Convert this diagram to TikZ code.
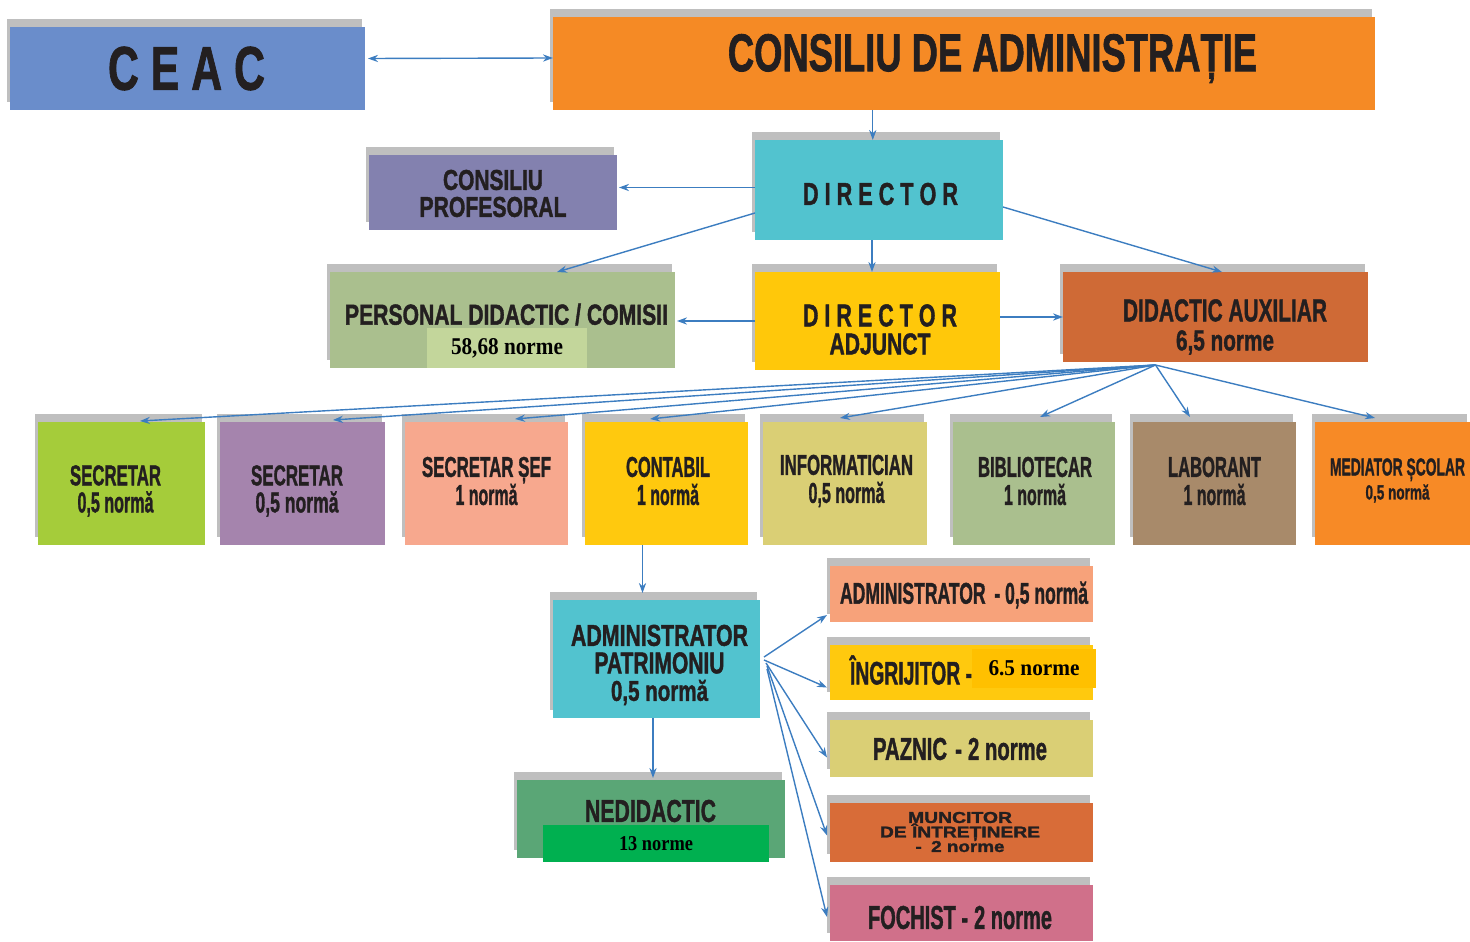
\documentclass[tikz,border=0pt]{standalone}
\usepackage{fontspec}
\setmainfont{Liberation Sans}[BoldFeatures={FakeBold=1.6}]
\newfontfamily\tnr{Liberation Serif}
\usepackage{graphicx}
\usetikzlibrary{shadows,calc,arrows.meta}
\newlength\pxu \setlength\pxu{0.5pt}
\newcommand\fitt[3]{\resizebox{#1\pxu}{#2\pxu}{\bfseries #3}}
\newcommand\fits[3]{\resizebox{#1\pxu}{#2\pxu}{\tnr\bfseries #3}}
\newcommand\lsp{\hspace{0.28em}}
\definecolor{txtc}{HTML}{231F20}
\definecolor{arrc}{HTML}{3C7DC0}
\definecolor{cceac}{HTML}{6A8DCB}
\definecolor{cca}{HTML}{F58A25}
\definecolor{cdir}{HTML}{52C3CF}
\definecolor{ccp}{HTML}{8381AF}
\definecolor{cpd}{HTML}{AABF8E}
\definecolor{cpdo}{HTML}{C3D69B}
\definecolor{cda}{HTML}{FFC80A}
\definecolor{caux}{HTML}{CF6A36}
\definecolor{cs1}{HTML}{A5CC3A}
\definecolor{cs2}{HTML}{A584AD}
\definecolor{cs3}{HTML}{F7A88E}
\definecolor{ccont}{HTML}{FFC90E}
\definecolor{cinf}{HTML}{DACF75}
\definecolor{cbib}{HTML}{AABF8E}
\definecolor{clab}{HTML}{A88A6A}
\definecolor{cmed}{HTML}{F78A26}
\definecolor{cned}{HTML}{5AA676}
\definecolor{cnedo}{HTML}{00B050}
\definecolor{cadm}{HTML}{F7A27A}
\definecolor{cingr}{HTML}{FFC90E}
\definecolor{cingro}{HTML}{FFC000}
\definecolor{cpaz}{HTML}{DACF75}
\definecolor{cmunc}{HTML}{D86C38}
\definecolor{cfoch}{HTML}{D0708A}
\begin{document}
\begin{tikzpicture}[x=0.5pt,y=-0.5pt,
  bx/.style={inner sep=0,outer sep=0,draw=none,
    drop shadow={shadow xshift=-1.5pt,shadow yshift=4pt,fill=black!50,opacity=.5}},
  ov/.style={inner sep=0,outer sep=0,draw=none},
  tx/.style={inner sep=0,outer sep=0,align=center,text=txtc,font=\fontsize{5pt}{#1}\selectfont},
  tx/.default=12pt,
  arr/.style={draw=arrc,line width=0.7pt,-{Stealth[length=5pt,width=3.6pt]}},
  arrb/.style={draw=arrc,line width=0.7pt,{Stealth[length=5pt,width=3.6pt]}-{Stealth[length=5pt,width=3.6pt]}},
]
\useasboundingbox (0,0) rectangle (1470,941);
% boxes
\node[bx,fill=cceac,minimum width=177.5pt,minimum height=41.5pt] (ceac) at (187.5,68.5) {};
\node[bx,fill=cca,minimum width=411pt,minimum height=46.5pt] (ca) at (964,63.5) {};
\node[bx,fill=cdir,minimum width=124pt,minimum height=50pt] (dir) at (879,190) {};
\node[bx,fill=ccp,minimum width=124pt,minimum height=37.5pt] (cp) at (493,192.5) {};
\node[bx,fill=cpd,minimum width=172.5pt,minimum height=48pt] (pd) at (502.5,320) {};
\node[bx,fill=cda,minimum width=122.5pt,minimum height=49pt] (da) at (877.5,321) {};
\node[bx,fill=caux,minimum width=152.5pt,minimum height=45pt] (aux) at (1215.5,317) {};
\node[bx,fill=cs1,minimum width=83.5pt,minimum height=61.5pt] (s1) at (121.5,483.5) {};
\node[bx,fill=cs2,minimum width=82.5pt,minimum height=61.5pt] (s2) at (302.5,483.5) {};
\node[bx,fill=cs3,minimum width=81.5pt,minimum height=61.5pt] (s3) at (486.5,483.5) {};
\node[bx,fill=ccont,minimum width=81.5pt,minimum height=61.5pt] (cont) at (666.5,483.5) {};
\node[bx,fill=cinf,minimum width=82pt,minimum height=61.5pt] (inf) at (845,483.5) {};
\node[bx,fill=cbib,minimum width=81pt,minimum height=61.5pt] (bib) at (1034,483.5) {};
\node[bx,fill=clab,minimum width=81.5pt,minimum height=61.5pt] (lab) at (1214.5,483.5) {};
\node[bx,fill=cmed,minimum width=77.5pt,minimum height=61.5pt] (med) at (1392.5,483.5) {};
\node[bx,fill=cdir,minimum width=103.5pt,minimum height=59pt] (ap) at (656.5,659) {};
\node[bx,fill=cned,minimum width=134pt,minimum height=39pt] (ned) at (651,819) {};
\node[bx,fill=cadm,minimum width=131.5pt,minimum height=28pt] (adm) at (961.5,594) {};
\node[bx,fill=cingr,minimum width=131.5pt,minimum height=27.5pt] (ingr) at (961.5,672.5) {};
\node[bx,fill=cpaz,minimum width=131.5pt,minimum height=28.5pt] (paz) at (961.5,748.5) {};
\node[bx,fill=cmunc,minimum width=131.5pt,minimum height=29.5pt] (munc) at (961.5,832.5) {};
\node[bx,fill=cfoch,minimum width=131.5pt,minimum height=28pt] (foch) at (961.5,913) {};
% texts
\node[tx] (tceac) at (186.5,68.5) {\fitt{157}{43}{C\lsp E\lsp A\lsp C}};
\node[tx] (tca) at (992.5,58.5) {\fitt{529}{37}{CONSILIU DE ADMINISTRAȚIE}};
\node[tx] (tdir) at (880.5,194) {\fitt{155}{22}{D\lsp I\lsp R\lsp E\lsp C\lsp T\lsp O\lsp R}};
\node[tx=13.5pt] (tcp) at (493,193.5) {\fitt{100}{20}{CONSILIU}\\\fitt{147}{20}{PROFESORAL}};
\node[tx] (tpd) at (506.5,314.5) {\fitt{323}{21}{PERSONAL DIDACTIC / COMISII}};
\node[ov,fill=cpdo,minimum width=80pt,minimum height=20pt] (pdo) at (507,348) {\fits{112}{16}{58,68 norme}};
\node[tx=14pt] (tda) at (880,329.5) {\fitt{154}{22}{D\lsp I\lsp R\lsp E\lsp C\lsp T\lsp O\lsp R}\\\fitt{101}{21}{ADJUNCT}};
\node[tx=14.5pt] (taux) at (1225,327) {\fitt{204}{22}{DIDACTIC AUXILIAR}\\\fitt{98}{20}{6,5 norme}};
\node[tx=13.5pt] (ts1) at (115.5,491) {\fitt{91}{20}{SECRETAR}\\\fitt{76}{21}{0,5 normă}};
\node[tx=13.5pt] (ts2) at (297,491) {\fitt{92}{20}{SECRETAR}\\\fitt{83}{21}{0,5 normă}};
\node[tx=14pt] (ts3) at (486.5,481) {\fitt{129}{20}{SECRETAR ȘEF}\\\fitt{62}{21}{1 normă}};
\node[tx=14pt] (tcont) at (668,481) {\fitt{84}{20}{CONTABIL}\\\fitt{62}{21}{1 normă}};
\node[tx=14pt] (tinf) at (846.5,481) {\fitt{133}{20}{INFORMATICIAN}\\\fitt{76}{21}{0,5 normă}};
\node[tx=14pt] (tbib) at (1035,481) {\fitt{114}{20}{BIBLIOTECAR}\\\fitt{62}{21}{1 normă}};
\node[tx=14pt] (tlab) at (1214.5,481) {\fitt{93}{20}{LABORANT}\\\fitt{62}{21}{1 normă}};
\node[tx=12pt] (tmed) at (1397.5,480.5) {\fitt{135}{17}{MEDIATOR ȘCOLAR}\\\fitt{64}{15}{0,5 normă}};
\node[tx=13.75pt] (tap) at (659.5,665) {\fitt{177}{21}{ADMINISTRATOR}\\\fitt{130}{21}{PATRIMONIU}\\\fitt{97}{21}{0,5 normă}};
\node[tx] (tned) at (650.5,811) {\fitt{131}{22}{NEDIDACTIC}};
\node[ov,fill=cnedo,minimum width=113pt,minimum height=18.5pt] (nedo) at (656,843.5) {\fits{74}{14}{13 norme}};
\node[tx] (tadm) at (964,595) {\fitt{248}{22}{ADMINISTRATOR\hspace{0.5em}- 0,5 normă}};
\node[tx] (tingr) at (911,670) {\fitt{122}{29}{ÎNGRIJITOR -}};
\node[ov,fill=cingro,minimum width=62pt,minimum height=19.5pt] (ingro) at (1034,668.5) {\fits{91}{15}{6.5 norme}};
\node[tx] (tpaz) at (960,749) {\fitt{174}{22}{PAZNIC\hspace{0.4em}-\hspace{0.3em}2 norme}};
\node[tx=7.25pt] (tmunc) at (960,832) {\fitt{104}{11}{MUNCITOR}\\\fitt{160}{14}{DE ÎNTREȚINERE}\\\fitt{89}{11}{-\hspace{0.5em}2 norme}};
\node[tx] (tfoch) at (960,917.5) {\fitt{184}{23}{FOCHIST -\hspace{0.3em}2 norme}};
% connectors
\draw[arrb] ($(ceac.east)+(3,-10)$) -- ($(ca.west)+(0,-5.5)$);
\coordinate (caD) at ($(ca.south west)!0.389!(ca.south east)$);
\draw[arr] (caD) -- (caD |- dir.north);
\coordinate (cpE) at ($(cp.east)+(2,-5)$);
\draw[arr] (cpE -| dir.west) -- (cpE);
\draw[arr] ($(dir.west)+(0,23)$) -- ($(pd.north)+(54.5,0)$);
\coordinate (dirD) at ($(dir.south)+(-7,0)$);
\draw[arr] (dirD) -- (dirD |- da.north);
\draw[arr] ($(dir.east)+(0,17)$) -- ($(aux.north)+(6.5,0)$);
\draw[arr] (da.west) -- ($(da.west -| pd.east)+(2,0)$);
\draw[arr] (aux.west -| da.east) -- (aux.west);
\coordinate (auxF) at ($(aux.south)+(-60,3)$);
\draw[arr] (auxF) -- ($(s1.north)+(18.5,-1)$);
\draw[arr] (auxF) -- ($(s2.north)+(30.5,-2)$);
\draw[arr] (auxF) -- ($(s3.north)+(28.5,-3)$);
\draw[arr] (auxF) -- ($(cont.north)+(-16.5,-3)$);
\draw[arr] (auxF) -- ($(inf.north)+(-5,-4)$);
\draw[arr] (auxF) -- ($(bib.north)+(6,-5)$);
\draw[arr] (auxF) -- ($(lab.north)+(-24.5,-5)$);
\draw[arr] (auxF) -- ($(med.north)+(-17.5,-4)$);
\coordinate (contD) at ($(cont.south)+(-24,0)$);
\draw[arr] (contD) -- ($(contD |- ap.north)+(0,-7)$);
\coordinate (apD) at ($(ap.south)+(-3.5,0)$);
\draw[arr] (apD) -- ($(apD |- ned.north)+(0,-2)$);
\coordinate (apE) at ($(ap.east)+(4,-2)$);
\draw[arr] (apE) -- ($(adm.west)+(-3,21)$);
\draw[arr] ($(apE)+(0,3)$) -- ($(ingr.west)+(-3,15)$);
\draw[arr] ($(apE)+(2,6)$) -- ($(paz.west)+(-3,9)$);
\draw[arr] ($(apE)+(3,9)$) -- ($(munc.west)+(-3,3)$);
\draw[arr] ($(apE)+(3,12)$) -- ($(foch.west)+(-3,4)$);
\end{tikzpicture}
\end{document}
